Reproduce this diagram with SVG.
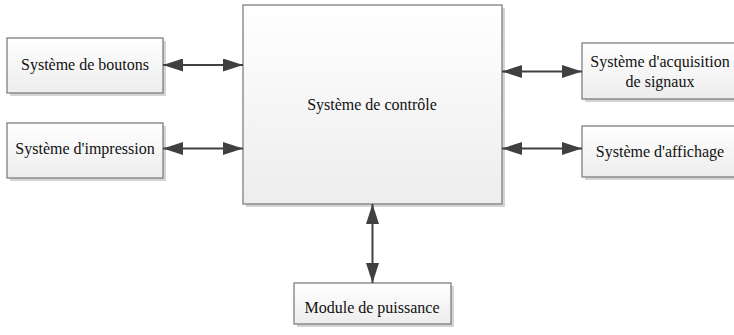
<svg xmlns="http://www.w3.org/2000/svg" width="734" height="335" viewBox="0 0 734 335">
<style>
.box{fill:url(#g);stroke:#7f7f7f;stroke-width:1.3}
.sh{fill:#d4d4d4}
.t{font-size:16px;fill:#111;text-anchor:middle}
.c{stroke:#404040;stroke-width:2;fill:none;marker-start:url(#a);marker-end:url(#a)}
</style>
<defs>
<linearGradient id="g" x1="0" y1="0" x2="0" y2="1">
<stop offset="0" stop-color="#ffffff"/>
<stop offset="1" stop-color="#ededed"/>
</linearGradient>
<marker id="a" viewBox="0 0 20 13" refX="20" refY="6.5" markerWidth="20" markerHeight="13" markerUnits="userSpaceOnUse" orient="auto-start-reverse">
<path d="M0,0 L20,6.5 L0,13 Z" fill="#404040"/>
</marker>
</defs>
<g font-family="Liberation Serif, Tinos, DejaVu Serif, serif">
<g id="controle">
<rect class="sh" x="246" y="8" width="259" height="199"/>
<rect class="box" x="243" y="5" width="259" height="199"/>
<text class="t" x="372" y="110">Système de contrôle</text>
</g>
<g id="boutons">
<rect class="sh" x="10" y="41" width="156" height="55"/>
<rect class="box" x="7" y="38" width="156" height="55"/>
<text class="t" x="85" y="70">Système de boutons</text>
</g>
<g id="impression">
<rect class="sh" x="10" y="126" width="156" height="55"/>
<rect class="box" x="7" y="123" width="156" height="55"/>
<text class="t" x="85" y="154">Système d'impression</text>
</g>
<g id="acquisition">
<rect class="sh" x="585" y="46" width="160" height="56"/>
<rect class="box" x="582" y="43" width="160" height="56"/>
<text class="t" x="660" y="67">Système d'acquisition</text>
<text class="t" x="660" y="87">de signaux</text>
</g>
<g id="affichage">
<rect class="sh" x="585" y="129" width="160" height="51"/>
<rect class="box" x="582" y="126" width="160" height="51"/>
<text class="t" x="660" y="157">Système d'affichage</text>
</g>
<g id="puissance">
<rect class="sh" x="297" y="286" width="157" height="41"/>
<rect class="box" x="294" y="283" width="157" height="41"/>
<text class="t" x="372" y="313">Module de puissance</text>
</g>
</g>
<g id="connectors">
<line class="c" x1="163" y1="65" x2="243" y2="65"/>
<line class="c" x1="163" y1="148.5" x2="243" y2="148.5"/>
<line class="c" x1="502" y1="71.5" x2="582" y2="71.5"/>
<line class="c" x1="502" y1="148.5" x2="582" y2="148.5"/>
<line class="c" x1="372.5" y1="204" x2="372.5" y2="283"/>
</g>
</svg>
